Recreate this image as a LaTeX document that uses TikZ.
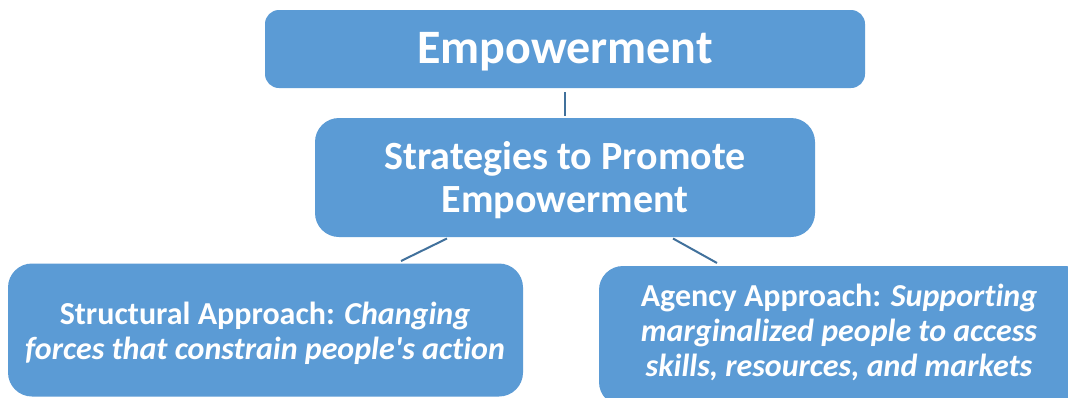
\documentclass[tikz,border=0pt]{standalone}
\usepackage{fontspec}
\setmainfont[Ligatures=NoCommon]{Carlito}
\usepackage{tikz}

\definecolor{boxblue}{HTML}{5B9BD5}
\definecolor{linkblue}{HTML}{41719C}

\tikzset{
  box/.style={fill=boxblue, inner sep=0pt},
  boxtext/.style={text=white, align=center, inner sep=0pt},
  link/.style={draw=linkblue, line width=2pt}
}

\begin{document}
\begin{tikzpicture}[x=1pt,y=-1pt]
  \clip (0,0) rectangle (1068,397);
  \fill[white] (0,0) rectangle (1068,397);

  \node[box, rounded corners=14pt, minimum width=600pt, minimum height=78pt] (empower) at (565,49) {};
  \node[boxtext, font=\bfseries\fontsize{48}{52}\selectfont] (empowertext) at (565,51.5) {Empowerment};

  \node[box, rounded corners=24pt, minimum width=500pt, minimum height=119pt] (strategy) at (565,177.5) {};
  \node[boxtext, font=\bfseries\fontsize{40}{43}\selectfont] (strategytext) at (565,180)
        {Strategies to Promote\\Empowerment};

  \node[box, rounded corners=24pt, minimum width=515pt, minimum height=133pt] (structural) at (265.5,330) {};
  \node[boxtext, font=\bfseries\fontsize{32}{35}\selectfont] (structuraltext) at (265,333)
        {Structural Approach: \textit{Changing}\\\textit{forces that constrain people\textquotesingle s action}};

  \node[box, rounded corners=24pt, minimum width=490pt, minimum height=140pt] (agency) at (844,336) {};
  \node[boxtext, font=\bfseries\fontsize{32}{35}\selectfont] (agencytext) at (839,332)
        {Agency Approach: \textit{Supporting}\\\textit{marginalized people to access}\\\textit{skills, resources, and markets}};

  \coordinate (strategyL) at (447,238.5);
  \coordinate (strategyR) at (673,238.5);
  \coordinate (structuralT) at (401,261);
  \coordinate (agencyT) at (717,263);
  \draw[link] ([yshift=-4pt]empower.south) -- ([yshift=2pt]strategy.north);
  \draw[link] (strategyL) -- (structuralT);
  \draw[link] (strategyR) -- (agencyT);
\end{tikzpicture}
\end{document}
